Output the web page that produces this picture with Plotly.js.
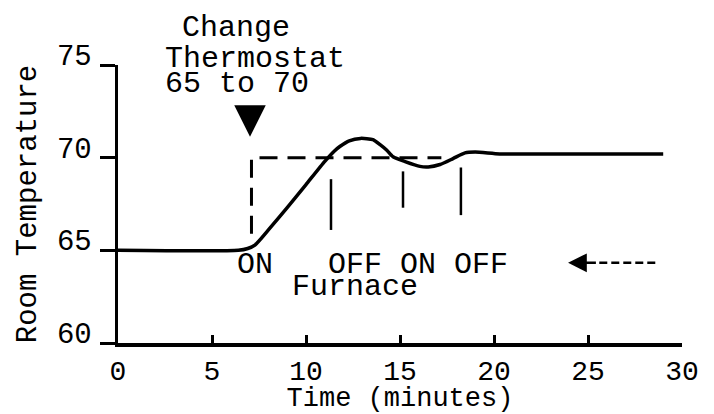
<!DOCTYPE html>
<html>
<head>
<meta charset="utf-8">
<script src="https://cdn.plot.ly/plotly-3.0.1.min.js"></script>
<style>html,body{margin:0;padding:0;background:#fff;}#chart{width:714px;height:414px;}</style>
</head>
<body>
<div id="chart"></div>
<script>
// Room temperature response (minutes, degrees)
var timeMin = [0, 6.4, 6.9, 7.3, 8.0, 9.0, 10.0, 11.0, 11.5, 11.8, 12.3, 12.9, 13.56, 13.94, 14.3, 14.63, 15.27, 16.06, 16.5, 17.13, 17.82, 18.46, 19.0, 20.3, 22, 25, 29.0];
var roomTemp = [65, 65, 65.1, 65.3, 66.1, 67.3, 68.55, 69.8, 70.35, 70.6, 70.91, 71.04, 70.97, 70.7, 70.4, 70.05, 69.79, 69.53, 69.5, 69.63, 69.95, 70.26, 70.3, 70.2, 70.2, 70.2, 70.2];

// Thermostat set point (dashed)
var setX = [7.1, 7.1, 17.2];
var setY = [65.9, 70, 70];

// Furnace switching markers
var switchX = [11.33, 11.33, null, 15.16, 15.16, null, 18.24, 18.24];
var switchY = [68.84, 66.1, null, 69.26, 67.3, null, 69.47, 66.9];

// Dashed shaft of the left-pointing arrow
var shaftX = [25.6, 28.6];
var shaftY = [64.33, 64.33];

// Axis ticks
var xTicks = [0, 5, 10, 15, 20, 25, 30];
var yTicks = [60, 65, 70, 75];

// Text labels (data x; y in data units, or paper units for the two top lines)
var labelText = ['Change', 'Thermostat', '65 to 70', 'ON', 'OFF ON OFF', 'Furnace'];
var labelX = [3.3, 2.4, 2.4, 7.29, 15.95, 12.6];
var labelY = [1.134, 1.02, 73.98, 64.2, 64.2, 63.0];
var labelYref = ['paper', 'paper', 'y', 'y', 'y', 'y'];
var labelAnchor = ['left', 'left', 'left', 'center', 'center', 'center'];

// Arrows: tip and tail
var arrowTipX = [7.02, 23.94];
var arrowTipY = [71.13, 64.33];
var arrowTailX = [7.02, 25.5];
var arrowTailY = [72.7, 64.33];

var FONT = 'Liberation Mono, Courier New, monospace';

var traces = [
  {x: setX, y: setY, mode: 'lines', line: {color: '#000', width: 3, dash: '18px,10px'}, hoverinfo: 'skip'},
  {x: switchX, y: switchY, mode: 'lines', line: {color: '#000', width: 2.5}, hoverinfo: 'skip'},
  {x: shaftX, y: shaftY, mode: 'lines', line: {color: '#000', width: 2.5, dash: '8px,4px'}, hoverinfo: 'skip'},
  {x: timeMin, y: roomTemp, mode: 'lines', line: {color: '#000', width: 3.5, shape: 'spline', smoothing: 0.6}, hoverinfo: 'skip'}
];

var annotations = [];
for (var i = 0; i < labelText.length; i++) {
  annotations.push({x: labelX[i], y: labelY[i], xref: 'x', yref: labelYref[i], text: labelText[i],
    showarrow: false, xanchor: labelAnchor[i], yanchor: 'middle',
    font: {family: FONT, size: 30, color: '#000'}});
}
for (var j = 0; j < arrowTipX.length; j++) {
  annotations.push({x: arrowTipX[j], y: arrowTipY[j], ax: arrowTailX[j], ay: arrowTailY[j],
    xref: 'x', yref: 'y', axref: 'x', ayref: 'y', text: '', showarrow: true,
    arrowhead: 2, arrowcolor: '#000',
    arrowwidth: j === 0 ? 3.5 : 2.5, arrowsize: j === 0 ? 1.8 : 1.5});
}

var layout = {
  width: 714, height: 414,
  margin: {l: 118, r: 32, t: 65, b: 71, pad: 0},
  paper_bgcolor: '#fff', plot_bgcolor: '#fff',
  showlegend: false,
  font: {family: FONT, size: 29, color: '#000'},
  xaxis: {
    range: [0, 30], tickvals: xTicks, ticktext: xTicks.map(String),
    showgrid: false, zeroline: false, showline: true, linecolor: '#000', linewidth: 3.5,
    ticks: 'inside', ticklen: 8, tickwidth: 3, tickcolor: '#000',
    tickfont: {family: FONT, size: 28, color: '#000'},
    title: {text: 'Time (minutes)', standoff: 14, font: {family: FONT, size: 27, color: '#000'}},
    automargin: false, fixedrange: true
  },
  xaxis2: {
    overlaying: 'x', matches: 'x', anchor: 'y', side: 'bottom',
    range: [0, 30], tickvals: xTicks, showticklabels: false,
    showgrid: false, zeroline: false, showline: false,
    ticks: 'outside', ticklen: 7, tickwidth: 3, tickcolor: '#000',
    automargin: false, fixedrange: true
  },
  yaxis: {
    range: [60, 75], tickvals: yTicks, ticktext: yTicks.map(String),
    showgrid: false, zeroline: false, showline: true, linecolor: '#000', linewidth: 3.5,
    ticks: 'outside', ticklen: 15, tickwidth: 3, tickcolor: '#000',
    ticklabelstandoff: 2, ticklabelshift: -10,
    tickfont: {family: FONT, size: 29, color: '#000'},
    title: {text: 'Room Temperature', standoff: 12, font: {family: FONT, size: 29, color: '#000'}},
    automargin: false, fixedrange: true
  },
  annotations: annotations
};

Plotly.newPlot('chart', traces, layout, {displayModeBar: false, staticPlot: true});
</script>
</body>
</html>
